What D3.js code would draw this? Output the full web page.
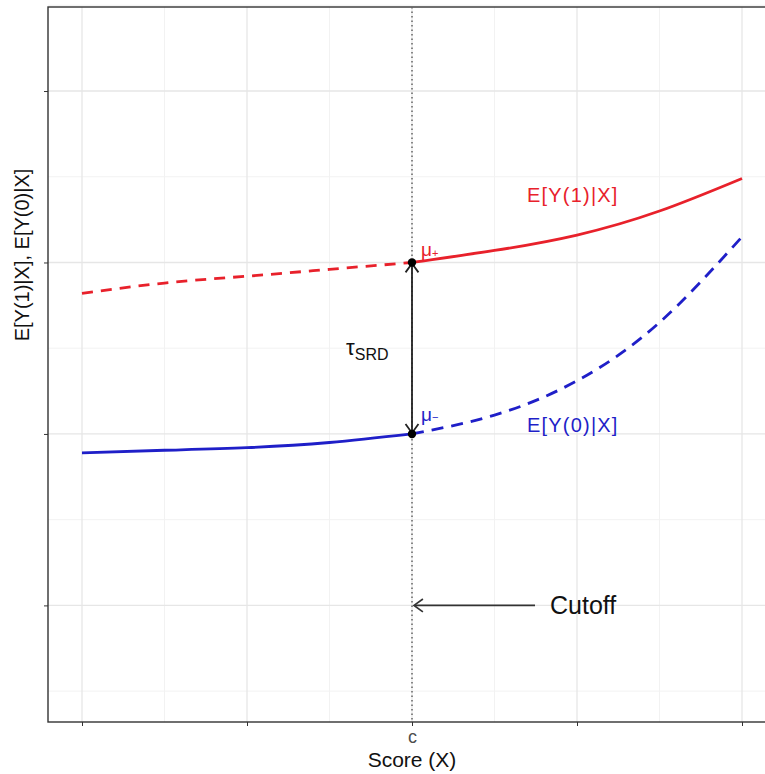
<!DOCTYPE html>
<html>
<head>
<meta charset="utf-8">
<script src="https://cdn.jsdelivr.net/npm/d3@7"></script>
<style>
  body { margin: 0; background: #fff; }
  svg { display: block; font-family: "Liberation Sans", Arial, sans-serif; }
</style>
</head>
<body>
<svg id="chart" width="765" height="774"></svg>
<script>
// score positions (c = 0)
const xs = [-1, -0.75, -0.5, -0.25, 0, 0.25, 0.5, 0.75, 1];
// E[Y(1)|X]
const y1Vals = [2.82, 2.88, 2.92, 2.96, 3.0, 3.07, 3.16, 3.30, 3.49];
// E[Y(0)|X]
const y0Vals = [1.89, 1.905, 1.92, 1.95, 2.0, 2.11, 2.31, 2.65, 3.15];
const cutoff = 0;

const xTicks = [-1, -0.5, 0, 0.5, 1];
const xTickLabels = ["", "", "c", "", ""];
const xMinor = [-0.75, -0.25, 0.25, 0.75];
const yTicks = [1, 2, 3, 4];
const yMinor = [0.5, 1.5, 2.5, 3.5, 4.5];

const svg = d3.select("#chart");

const x = d3.scaleLinear().domain([-1, 1]).range([82, 742]);
const y = d3.scaleLinear().domain([0.32, 4.49]).range([722, 7]);

const pLeft = 48, pRight = 778, pTop = 7, pBottom = 722;

// grid
const grid = svg.append("g");
grid.selectAll(".vminor").data(xMinor).join("line")
    .attr("x1", d => x(d)).attr("x2", d => x(d))
    .attr("y1", pTop).attr("y2", pBottom)
    .attr("stroke", "#f2f2f2").attr("stroke-width", 1);
grid.selectAll(".hminor").data(yMinor).join("line")
    .attr("x1", pLeft).attr("x2", pRight)
    .attr("y1", d => y(d)).attr("y2", d => y(d))
    .attr("stroke", "#f2f2f2").attr("stroke-width", 1);
grid.selectAll(".vmajor").data(xTicks).join("line")
    .attr("x1", d => x(d)).attr("x2", d => x(d))
    .attr("y1", pTop).attr("y2", pBottom)
    .attr("stroke", "#e6e6e6").attr("stroke-width", 1.3);
grid.selectAll(".hmajor").data(yTicks).join("line")
    .attr("x1", pLeft).attr("x2", pRight)
    .attr("y1", d => y(d)).attr("y2", d => y(d))
    .attr("stroke", "#e6e6e6").attr("stroke-width", 1.3);

// axes
const xAxis = svg.append("g")
    .attr("transform", `translate(0,${pBottom})`)
    .call(d3.axisBottom(x).tickValues(xTicks).tickFormat((d, i) => xTickLabels[i]).tickSize(4).tickPadding(4));
xAxis.select(".domain").remove();
xAxis.selectAll("line").attr("stroke", "#333");
xAxis.selectAll("text")
    .attr("fill", "#4d4d4d")
    .attr("font-size", 18)
    .style("font-size", "18px")
    .style("font-family", "'Liberation Sans', Arial, sans-serif");

const yAxis = svg.append("g")
    .attr("transform", `translate(${pLeft},0)`)
    .call(d3.axisLeft(y).tickValues(yTicks).tickFormat("").tickSize(4));
yAxis.select(".domain").remove();
yAxis.selectAll("line").attr("stroke", "#333");

// panel border
svg.append("rect")
    .attr("x", pLeft).attr("y", pTop)
    .attr("width", pRight - pLeft).attr("height", pBottom - pTop)
    .attr("fill", "none").attr("stroke", "#333").attr("stroke-width", 1.4);

// cutoff line
svg.append("line")
    .attr("x1", x(cutoff)).attr("x2", x(cutoff))
    .attr("y1", pTop).attr("y2", pBottom)
    .attr("stroke", "#666").attr("stroke-width", 1.5)
    .attr("stroke-dasharray", "1.5,3");

const line = d3.line().x(d => x(d[0])).y(d => y(d[1])).curve(d3.curveNatural);
const red = "#e8212b", blue = "#1f1fc8";
const ci = xs.indexOf(cutoff);

const pts1 = xs.map((v, i) => [v, y1Vals[i]]);
const pts0 = xs.map((v, i) => [v, y0Vals[i]]);

// E[Y(1)|X]: dashed left of c, solid right
svg.append("path").attr("d", line(pts1.slice(0, ci + 1)))
    .attr("fill", "none").attr("stroke", red).attr("stroke-width", 2.8)
    .attr("stroke-dasharray", "11,8");
svg.append("path").attr("d", line(pts1.slice(ci)))
    .attr("fill", "none").attr("stroke", red).attr("stroke-width", 2.8);

// E[Y(0)|X]: solid left of c, dashed right
svg.append("path").attr("d", line(pts0.slice(0, ci + 1)))
    .attr("fill", "none").attr("stroke", blue).attr("stroke-width", 2.8);
svg.append("path").attr("d", line(pts0.slice(ci)))
    .attr("fill", "none").attr("stroke", blue).attr("stroke-width", 2.8)
    .attr("stroke-dasharray", "12,8");

// open arrowhead path pointing in direction dir (radians)
function arrowHead(px, py, dir) {
  const len = 11, spread = Math.PI / 5;
  const a1 = dir + Math.PI - spread, a2 = dir + Math.PI + spread;
  return `M${px + len * Math.cos(a1)},${py + len * Math.sin(a1)}L${px},${py}L${px + len * Math.cos(a2)},${py + len * Math.sin(a2)}`;
}

// tau arrow
const ax = x(cutoff), ayTop = y(y1Vals[ci]), ayBot = y(y0Vals[ci]);
svg.append("line")
    .attr("x1", ax).attr("x2", ax).attr("y1", ayTop + 2).attr("y2", ayBot - 2)
    .attr("stroke", "#222").attr("stroke-width", 1.8);
svg.append("path").attr("d", arrowHead(ax, ayTop + 1, -Math.PI / 2))
    .attr("fill", "none").attr("stroke", "#222").attr("stroke-width", 1.8);
svg.append("path").attr("d", arrowHead(ax, ayBot - 1, Math.PI / 2))
    .attr("fill", "none").attr("stroke", "#222").attr("stroke-width", 1.8);

// points
svg.selectAll(".pt").data([y1Vals[ci], y0Vals[ci]]).join("circle")
    .attr("cx", x(cutoff)).attr("cy", d => y(d)).attr("r", 4.2)
    .attr("fill", "#000");

// cutoff arrow
const cutY = y(1);
svg.append("line")
    .attr("x1", x(cutoff) + 3).attr("x2", 535).attr("y1", cutY).attr("y2", cutY)
    .attr("stroke", "#333").attr("stroke-width", 1.7);
svg.append("path").attr("d", arrowHead(x(cutoff) + 2, cutY, Math.PI))
    .attr("fill", "none").attr("stroke", "#333").attr("stroke-width", 1.7);

// labels
svg.append("text").attr("x", 550).attr("y", 614)
    .style("font-size", "25px").attr("fill", "#111").text("Cutoff");

svg.append("text").attr("x", 527).attr("y", 202)
    .style("font-size", "20px").style("letter-spacing", "1.2px")
    .attr("fill", red).text("E[Y(1)|X]");
svg.append("text").attr("x", 527).attr("y", 432)
    .style("font-size", "20px").style("letter-spacing", "1.2px")
    .attr("fill", blue).text("E[Y(0)|X]");

const tau = svg.append("text").attr("x", 346).attr("y", 355)
    .style("font-size", "22px").attr("fill", "#111");
tau.append("tspan").text("τ");
tau.append("tspan").attr("dy", 5).style("font-size", "16px").text("SRD");

const muP = svg.append("text").attr("x", 421).attr("y", 256)
    .style("font-size", "19px").attr("fill", red);
muP.append("tspan").text("μ");
muP.append("tspan").attr("dy", 1).style("font-size", "11px").text("+");

const muM = svg.append("text").attr("x", 421).attr("y", 421)
    .style("font-size", "19px").attr("fill", blue);
muM.append("tspan").text("μ");
muM.append("tspan").attr("dy", 0).style("font-size", "11px").text("−");

// axis titles
svg.append("text").attr("x", x(cutoff)).attr("y", 767)
    .attr("text-anchor", "middle").style("font-size", "21px")
    .attr("fill", "#111").text("Score (X)");
svg.append("text")
    .attr("transform", "translate(29,255) rotate(-90)")
    .attr("text-anchor", "middle").style("font-size", "20px")
    .attr("fill", "#111").text("E[Y(1)|X], E[Y(0)|X]");
</script>
</body>
</html>
